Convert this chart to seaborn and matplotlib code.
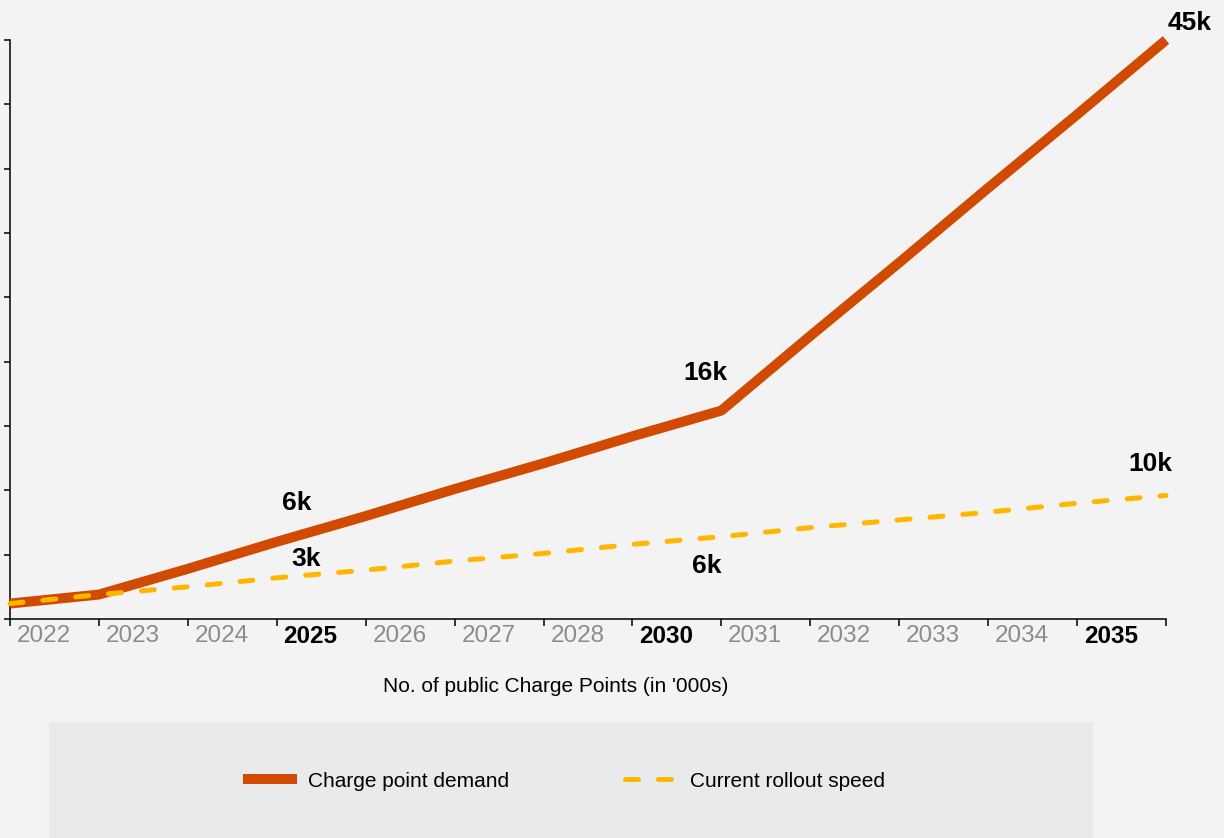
import seaborn as sns
import matplotlib.pyplot as plt
import matplotlib.patches as mpatches
import pandas as pd

# Data (values in '000 charge points)
years = [2022, 2023, 2024, 2025, 2026, 2027, 2028, 2029, 2030, 2031, 2032, 2033, 2034, 2035]
demand = [1.2, 1.9, 3.9, 6.0, 8.0, 10.1, 12.1, 14.2, 16.2, 22.0, 27.7, 33.5, 39.2, 45.0]
rollout = [1.2, 1.9, 2.5, 3.2, 3.8, 4.5, 5.1, 5.8, 6.4, 7.1, 7.7, 8.3, 9.0, 9.6]
tick_labels = ["2022", "2023", "2024", "2025", "2026", "2027", "2028",
               "2030", "2031", "2032", "2033", "2034", "2035"]
bold_labels = ["2025", "2030", "2035"]

ORANGE = "#d04a02"
YELLOW = "#ffb600"
BG = "#f3f3f3"

sns.set_style("ticks")
plt.rcParams["font.family"] = ["Liberation Sans", "DejaVu Sans"]
plt.rcParams["text.color"] = "black"

df = pd.DataFrame({"year": years, "demand": demand, "rollout": rollout})
df["pos"] = range(len(df))

fig = plt.figure(figsize=(12.24, 8.38), dpi=100, facecolor=BG)
ax = fig.add_axes([10 / 1224, 1 - 619 / 838, 1156 / 1224, 579 / 838])
ax.set_facecolor(BG)

sns.lineplot(data=df, x="pos", y="demand", ax=ax, color=ORANGE, linewidth=7.2,
             solid_capstyle="butt", label="Charge point demand", zorder=3, clip_on=False)
sns.lineplot(data=df, x="pos", y="rollout", ax=ax, color=YELLOW, linewidth=3.6,
             linestyle=(0, (2.6, 4.0)), dash_capstyle="round",
             label="Current rollout speed", zorder=4, clip_on=False)

ax.set_xlim(0, len(years) - 1)
ax.set_ylim(0, 45)
ax.set_yticks(range(0, 46, 5))
ax.set_yticklabels([])
ax.set_xticks(df["pos"])
ax.set_xticklabels([])
ax.tick_params(axis="y", direction="out", length=4.3, width=1.1, color="black")
ax.tick_params(axis="x", which="major", direction="out", length=5, width=1.1, color="black")

label_pos = [i + 0.38 for i in range(len(tick_labels))]
ax.set_xticks(label_pos, tick_labels, minor=True)
ax.tick_params(axis="x", which="minor", length=0, pad=4, labelsize=17.5)
for t in ax.get_xticklabels(minor=True):
    if t.get_text() in bold_labels:
        t.set_color("black")
        t.set_fontweight("bold")
    else:
        t.set_color("#8c8c8c")

ax.set_xlabel("")
ax.set_ylabel("")
for side in ["top", "right"]:
    ax.spines[side].set_visible(False)
for side in ["left", "bottom"]:
    ax.spines[side].set_color("black")
    ax.spines[side].set_linewidth(1.1)

# value labels
notes = [
    ("45k", 13, demand[13], (17, 12)),
    ("16k", 8, demand[8], (-11.5, 27.4)),
    ("6k", 3, demand[3], (14.4, 28.1)),
    ("3k", 3, rollout[3], (20.9, 13.7)),
    ("6k", 8, rollout[8], (-10.8, -20.9)),
    ("10k", 13, rollout[13], (-11.5, 23)),
]
for txt, x, y, off in notes:
    ax.annotate(txt, xy=(x, y), xytext=off, textcoords="offset points",
                ha="center", va="center", fontsize=19, fontweight="bold",
                color="black", annotation_clip=False)

fig.text(556 / 1224, 1 - 686 / 838, "No. of public Charge Points (in '000s)",
         ha="center", va="center", fontsize=15, color="black")

# legend panel
fig.patches.append(mpatches.Rectangle((49 / 1224, 0), 1044 / 1224, 116 / 838,
                                      transform=fig.transFigure, facecolor="#e9eaeb",
                                      edgecolor="none", zorder=0))
handles, labels = ax.get_legend_handles_labels()
ax.get_legend().remove()
leg = fig.legend(handles, labels, loc="center", bbox_to_anchor=(564 / 1224, 1 - 781 / 838),
                 ncol=2, frameon=False, fontsize=15, handlelength=2.6,
                 handletextpad=0.5, columnspacing=5.6)
for t in leg.get_texts():
    t.set_color("black")

fig.savefig("out.png", dpi=100, facecolor=BG)
